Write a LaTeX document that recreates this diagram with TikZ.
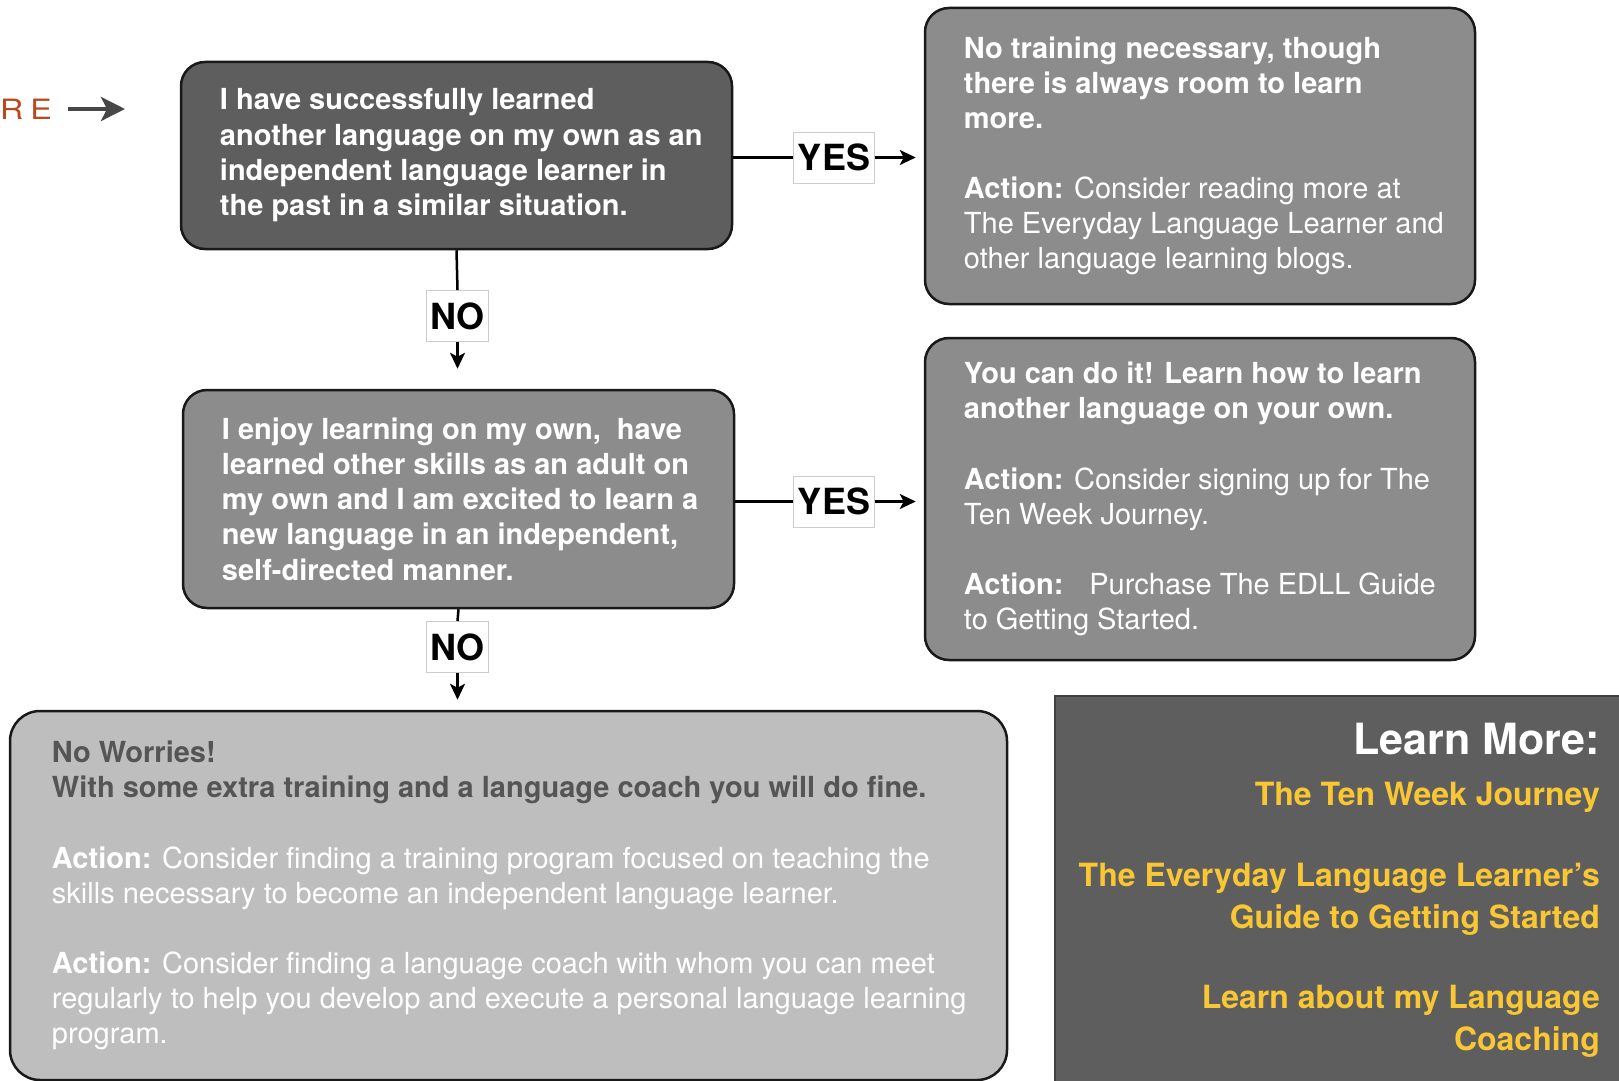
\documentclass[tikz,border=0pt]{standalone}
\usepackage{fontspec}
\setmainfont{TeX Gyre Heros}
\usepackage{xcolor}
\usetikzlibrary{arrows.meta, positioning}

\definecolor{darkbox}{HTML}{5E5E5E}
\definecolor{midbox}{HTML}{8C8C8C}
\definecolor{lightbox}{HTML}{BEBEBE}
\definecolor{headgrey}{HTML}{555555}
\definecolor{linkyellow}{HTML}{F8C733}
\definecolor{rust}{HTML}{B9481C}

\begin{document}
\begin{tikzpicture}[
    x=1pt, y=-1pt,
    box/.style={rectangle, rounded corners=24pt, draw=black!90, line width=2.5pt, inner sep=0pt},
    answer/.style={rectangle, draw=black!20, fill=white, line width=1pt, inner xsep=4pt, inner ysep=0pt, minimum height=51pt, font=\fontsize{36}{40}\selectfont\bfseries},
    bodytext/.style={align=left, inner sep=0pt, text=white, font=\fontsize{29}{35.1}\selectfont},
    boldtext/.style={bodytext, font=\fontsize{29}{35.3}\selectfont\bfseries},
    link/.style={anchor=base east, align=right, inner sep=0pt, text=linkyellow, font=\fontsize{32}{42}\selectfont\bfseries},
    line/.style={line width=2.5pt},
    arrow/.style={-{Stealth[length=16pt, width=15pt, inset=4pt]}, line width=2.5pt}
]
\useasboundingbox (0,0) rectangle (1619,1081);

% question and answer boxes
\node[box, fill=darkbox, minimum width=551pt, minimum height=187pt] (learned) at (456.5,155.5) {};
\node[box, fill=midbox, minimum width=550pt, minimum height=296pt] (noTraining) at (1200,156) {};
\node[box, fill=midbox, minimum width=551pt, minimum height=218pt] (enjoy) at (458.5,499) {};
\node[box, fill=midbox, minimum width=550pt, minimum height=322pt] (doIt) at (1200,499) {};
\node[box, fill=lightbox, rounded corners=30pt, minimum width=997pt, minimum height=369pt] (noWorries) at (508.5,895.5) {};

% texts of the boxes
\node[boldtext, right=40pt of learned.west] (learnedText) {I have successfully learned\\another language on my own as an\\independent language learner in\\the past in a similar situation.};
\node[bodytext, right=40pt of noTraining.west] (noTrainingText) {\textbf{No training necessary, though}\\\textbf{there is always room to learn}\\\textbf{more.}\\[35.1pt]\textbf{Action:} Consider reading more at\\The Everyday Language Learner and\\other language learning blogs.};
\node[boldtext, right=40pt of enjoy.west] (enjoyText) {I enjoy learning on my own,\ \ have\\learned other skills as an adult on\\my own and I am excited to learn a\\new language in an independent,\\self-directed manner.};
\node[bodytext, right=40pt of doIt.west] (doItText) {\textbf{You can do it! Learn how to learn}\\\textbf{another language on your own.}\\[35.1pt]\textbf{Action:} Consider signing up for The\\Ten Week Journey.\\[35.1pt]\textbf{Action:}\hspace{26pt}Purchase The EDLL Guide\\to Getting Started.};
\node[bodytext, right=43pt of noWorries.west] (noWorriesText) {\textcolor{headgrey}{\textbf{No Worries!}}\\\textcolor{headgrey}{\textbf{With some extra training and a language coach you will do fine.}}\\[35.1pt]\textbf{Action:} Consider finding a training program focused on teaching the\\skills necessary to become an independent language learner.\\[35.1pt]\textbf{Action:} Consider finding a language coach with whom you can meet\\regularly to help you develop and execute a personal language learning\\program.};

% yes / no labels
\node[answer] (yes1) at (834,157.5) {YES};
\node[answer] (no1) at (457.5,316) {NO};
\node[answer] (yes2) at (834,501.5) {YES};
\node[answer] (no2) at (457.5,647) {NO};

% connectors
\draw[line] (learned.east |- yes1) -- (yes1.west);
\draw[arrow, shorten >=8pt] (yes1.east) -- (yes1.east -| noTraining.west);
\draw[line] (learned.south) -- (no1.north);
\draw[arrow, shorten >=20pt] (no1.south) -- (no1.south |- enjoy.north);
\draw[line] (enjoy.east |- yes2) -- (yes2.west);
\draw[arrow, shorten >=8pt] (yes2.east) -- (yes2.east -| doIt.west);
\draw[line] (enjoy.south) -- (no2.north);
\draw[arrow, shorten >=10pt] (no2.south) -- (no2.south |- noWorries.north);

% cut-off pointer on the left
\node[anchor=west, inner sep=0pt, text=rust, font=\fontsize{28}{30}\selectfont] (more) at (0,109) {\scalebox{1.15}[1]{R\hspace{6pt}E}};
\coordinate (moreTip) at (125,109);
\draw[-{Stealth[length=24pt, width=24pt, inset=6pt]}, line width=4pt, draw=black!72, shorten <=16pt] (more.east) -- (moreTip);

% learn more panel
\node[rectangle, draw=black!75, line width=1.5pt, fill=darkbox, minimum width=580pt, minimum height=400pt, anchor=north west] (panel) at (1054,695) {};
\node[anchor=base east, inner sep=0pt, text=white, font=\fontsize{43}{48}\selectfont\bfseries] (moreTitle) at (1600,754) {Learn More:};
\node[link] (journey) at (1600,805) {The Ten Week Journey};
\node[link] (guide) at (1600,928) {The Everyday Language Learner's\\Guide to Getting Started};
\node[link] (coaching) at (1600,1050) {Learn about my Language\\Coaching};

\end{tikzpicture}
\end{document}
